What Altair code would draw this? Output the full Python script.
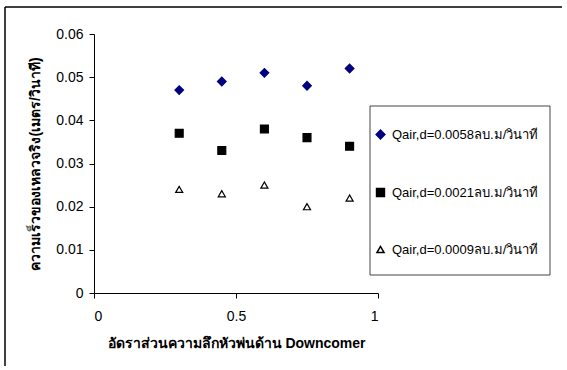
import altair as alt
import pandas as pd

x_ratio = [0.3, 0.45, 0.6, 0.75, 0.9]
s1 = [0.047, 0.049, 0.051, 0.048, 0.052]
s2 = [0.037, 0.033, 0.038, 0.036, 0.034]
s3 = [0.024, 0.023, 0.025, 0.020, 0.022]
names = ["Qair,d=0.0058ลบ.ม/วินาที", "Qair,d=0.0021ลบ.ม/วินาที", "Qair,d=0.0009ลบ.ม/วินาที"]

rows = []
for name, vals in zip(names, [s1, s2, s3]):
    for xv, yv in zip(x_ratio, vals):
        rows.append({"x": xv, "y": yv, "series": name})
df = pd.DataFrame(rows)

FONT = "Liberation Sans"
W, H = 284, 259
TOTAL_W, TOTAL_H = 567, 366

one = pd.DataFrame({"a": [0]})
frame_top = alt.Chart(one).mark_rule(stroke="black", strokeWidth=1.5).encode(
    x=alt.value(-89), x2=alt.value(562 - 94), y=alt.value(-27)
)
frame_left = alt.Chart(one).mark_rule(stroke="black", strokeWidth=1.5).encode(
    x=alt.value(-89), y=alt.value(-27), y2=alt.value(TOTAL_H - 34)
)

legend_box = alt.Chart(one).mark_rect(
    fill="white", stroke="#444444", strokeWidth=1
).encode(
    x=alt.value(276), x2=alt.value(456), y=alt.value(72), y2=alt.value(241)
)

sel = alt.Scale(domain=names, range=["#000080", "#000000", "#ffffff"])
points = alt.Chart(df).mark_point(filled=True, strokeWidth=1.2, opacity=1).encode(
    x=alt.X("x:Q", scale=alt.Scale(domain=[0, 1]),
            axis=alt.Axis(values=[0, 0.5, 1], format=".1~f",
                          title="อัดราส่วนความลึกหัวพ่นด้าน Downcomer")),
    y=alt.Y("y:Q", scale=alt.Scale(domain=[0, 0.06]),
            axis=alt.Axis(values=[0, 0.01, 0.02, 0.03, 0.04, 0.05, 0.06], format=".2~f",
                          title="ความเร็วของเหลวจริง(เมตร/วินาที)")),
    fill=alt.Fill("series:N", scale=sel, title=None,
                  legend=alt.Legend(orient="none", legendX=280, legendY=94, padding=0,
                                    rowPadding=43, labelOffset=5, labelFontSize=13,
                                    labelFont=FONT, labelColor="black", labelLimit=300)),
    stroke=alt.Stroke("series:N", scale=alt.Scale(domain=names, range=["#000080", "#000000", "#000000"]), title=None),
    shape=alt.Shape("series:N", scale=alt.Scale(domain=names, range=["diamond", "square", "triangle-up"]), title=None),
    size=alt.Size("series:N", scale=alt.Scale(domain=names, range=[75, 50, 55]), title=None),
)

chart = alt.layer(frame_top, frame_left, legend_box, points).properties(
    width=W, height=H,
    autosize=alt.AutoSizeParams(type="none"),
    padding={"left": 94, "top": 34, "right": TOTAL_W - 94 - W, "bottom": TOTAL_H - 34 - H},
).configure_view(stroke=None).configure_axis(
    grid=False, domainColor="black", tickColor="black", labelColor="black",
    labelFont=FONT, labelFontSize=14, titleFont=FONT, titleFontSize=14,
    titleFontWeight="bold", titleColor="black", domainWidth=1, tickSize=5
).configure_axisY(labelPadding=6, titlePadding=13).configure_axisX(
    labelPadding=11, titlePadding=13
)

chart.save("out.html", embed_options={"renderer": "svg", "actions": False})
